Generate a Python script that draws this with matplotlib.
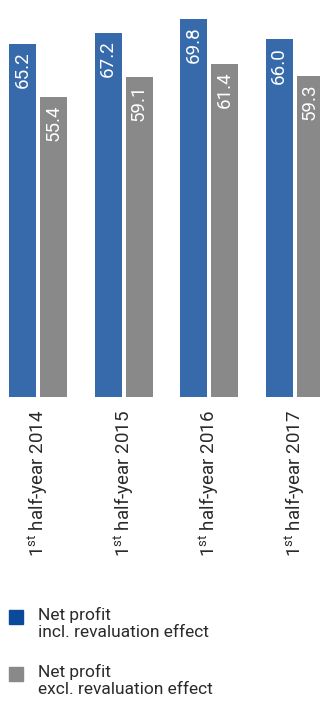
import matplotlib
matplotlib.use("Agg")
import matplotlib.pyplot as plt
from matplotlib.patches import Rectangle
import numpy as np

plt.rcParams['font.family'] = ['Roboto', 'DejaVu Sans']
plt.rcParams['mathtext.fontset'] = 'custom'
plt.rcParams['mathtext.rm'] = 'Roboto'

# data
periods = ["2014", "2015", "2016", "2017"]
incl_reval = [65.2, 67.2, 69.8, 66.0]
excl_reval = [55.4, 59.1, 61.4, 59.3]
legend_labels = ["Net profit\nincl. revaluation effect",
                 "Net profit\nexcl. revaluation effect"]

blue = "#376AAB"
gray = "#898989"
legend_blue = "#0B4A9B"
text_col = "#2a2a2a"

W, H = 320, 705
fig = plt.figure(figsize=(W / 100, H / 100), dpi=100)
base_px = 397
ax = fig.add_axes([0, 1 - base_px / H, 1, base_px / H])

step = 85.5          # pixels between groups
x = np.arange(len(periods))
width = 27 / step
off = 15.5 / step

ax.bar(x - off, incl_reval, width, color=blue)
ax.bar(x + off, excl_reval, width, color=gray)

ax.set_xlim(-38 / step, (W - 38) / step)
ax.set_ylim(0, base_px / 5.42)

for xs, vals in ((x - off, incl_reval), (x + off, excl_reval)):
    for xi, v in zip(xs, vals):
        ax.annotate(f"{v:.1f}", (xi, v), xytext=(0, -5.5), textcoords="offset points",
                    rotation=90, ha="center", va="top", color="white",
                    fontsize=13.5, fontfamily="Roboto")

ax.set_xticks(x)
ax.set_xticklabels([r"1$^{\mathrm{st}}$ half-year " + p for p in periods],
                   rotation=90, fontsize=13.5)
ax.tick_params(axis="x", length=0, pad=9, labelcolor=text_col)
ax.set_yticks([])
for s in ax.spines.values():
    s.set_visible(False)

# legend
entries = [(legend_blue, 610, legend_labels[0]), (gray, 667, legend_labels[1])]
for col, ytop, lab in entries:
    fig.add_artist(Rectangle((9 / W, 1 - (ytop + 14) / H), 14 / W, 14 / H,
                             transform=fig.transFigure, color=col))
    fig.text(38 / W, 1 - (ytop - 3) / H, lab, ha="left", va="top",
             fontsize=12.5, color=text_col, linespacing=1.2)

fig.savefig("out.png", dpi=100)
